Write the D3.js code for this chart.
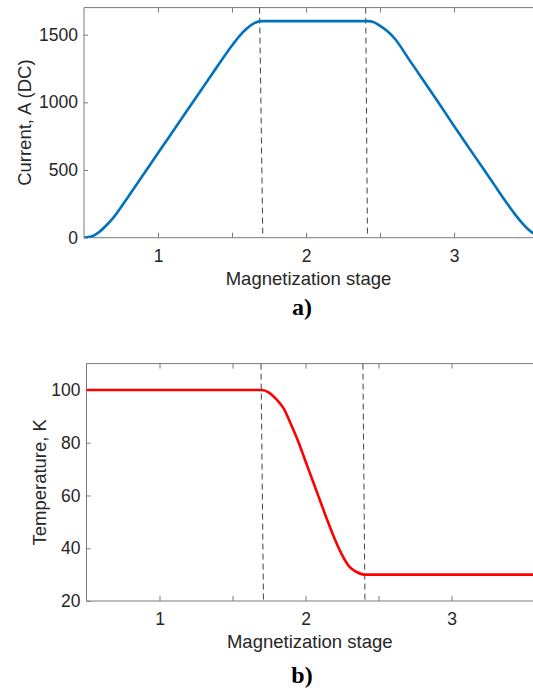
<!DOCTYPE html>
<html>
<head>
<meta charset="utf-8">
<script src="https://cdn.jsdelivr.net/npm/d3@7"></script>
<style>
    body { margin: 0; background: #fff; }
    .tick text { font-family: "Liberation Sans", Arial, sans-serif; fill: #262626; }
    .axis-title { font-family: "Liberation Sans", Arial, sans-serif; fill: #262626; font-size: 18.5px; }
    .panel-label { font-family: "Liberation Serif", "Times New Roman", serif; font-weight: bold; font-size: 24px; fill: #000; }
</style>
</head>
<body>
<div id="chart"></div>
<script>
(function () {

    // current profile (panel a)
    var currentStage = [0.50, 0.55, 0.60, 0.65, 0.70, 0.75, 0.80, 0.90, 1.00, 1.10, 1.20, 1.30, 1.40, 1.50, 1.55, 1.60, 1.65, 1.70,
        2.42, 2.45, 2.50, 2.55, 2.60, 2.70, 2.80, 2.90, 3.00, 3.10, 3.20, 3.25, 3.30, 3.35, 3.40, 3.45, 3.50, 3.54];
    var currentValues = [0, 8, 40, 90, 150, 225, 305, 465, 625, 785, 945, 1105, 1265, 1420, 1490, 1545, 1585, 1600,
        1600, 1595, 1565, 1525, 1470, 1310, 1150, 990, 825, 665, 505, 426, 345, 265, 190, 120, 62, 28];

    // temperature profile (panel b)
    var tempStage = [0.50, 1.70, 1.75, 1.80, 1.85, 1.90, 1.95, 2.00, 2.05, 2.10, 2.15, 2.20, 2.25, 2.30, 2.35, 2.40, 3.56];
    var tempValues = [100, 100, 99, 96.5, 93, 87, 80.5, 73, 65.5, 58, 50.5, 43.5, 37.5, 33, 31, 30, 30];

    // stage boundaries (dashed lines), value at top and bottom of each axis
    var boundsA = [[1.686, 1.708], [2.403, 2.415]];
    var boundsB = [[1.695, 1.712], [2.393, 2.407]];

    var xTicks = [1, 1.5, 2, 2.5, 3];
    var xTickLabels = ["1", "", "2", "", "3"];
    var yTicksA = [0, 500, 1000, 1500];
    var yTicksB = [20, 40, 60, 80, 100];

    var width = 533,
        height = 690,
        axisColor = "#7a7a7a";

    var svg = d3.select("#chart").append("svg")
        .attr("width", width)
        .attr("height", height);

    drawPanel({
        id: "a",
        left: 84, right: 534, top: 7.6, bottom: 237.7,
        xDomain: [0.5, 3.54], yDomain: [0, 1700],
        xs: currentStage, ys: currentValues, color: "#0072BD",
        yTicks: yTicksA, yTitle: "Current, A (DC)", yTitleX: 25,
        bounds: boundsA, label: "a)", labelY: 315
    });
    drawPanel({
        id: "b",
        left: 86.5, right: 533.3, top: 363.6, bottom: 601,
        xDomain: [0.5, 3.56], yDomain: [20, 110],
        xs: tempStage, ys: tempValues, color: "#FF0000",
        yTicks: yTicksB, yTitle: "Temperature, K", yTitleX: 40,
        bounds: boundsB, label: "b)", labelY: 683
    });

    function drawPanel(p) {
        var x = d3.scaleLinear().domain(p.xDomain).range([p.left, p.right]);
        var y = d3.scaleLinear().domain(p.yDomain).range([p.bottom, p.top]);
        var g = svg.append("g");

        g.append("clipPath").attr("id", "clip-" + p.id)
            .append("rect")
            .attr("x", p.left).attr("y", p.top)
            .attr("width", p.right - p.left).attr("height", p.bottom - p.top);

        // box: left, top, bottom
        g.append("path")
            .attr("d", "M" + p.right + "," + p.top + "H" + p.left + "V" + p.bottom + "H" + p.right)
            .attr("fill", "none")
            .attr("stroke", axisColor)
            .attr("stroke-width", 1);

        var xAxis = d3.axisBottom(x).tickValues(xTicks)
            .tickFormat(function (d, i) { return xTickLabels[i]; })
            .tickSizeInner(-5).tickSizeOuter(0).tickPadding(12);
        var gx = g.append("g")
            .attr("transform", "translate(0," + p.bottom + ")")
            .call(xAxis);
        gx.select(".domain").remove();
        gx.selectAll(".tick line").attr("stroke", axisColor);
        gx.selectAll(".tick text").attr("font-size", "17.5px").attr("dy", "0.71em");

        var xTop = d3.axisTop(x).tickValues(xTicks).tickFormat("")
            .tickSizeInner(-5).tickSizeOuter(0);
        var gxt = g.append("g")
            .attr("transform", "translate(0," + p.top + ")")
            .call(xTop);
        gxt.select(".domain").remove();
        gxt.selectAll(".tick line").attr("stroke", axisColor);

        var yAxis = d3.axisLeft(y).tickValues(p.yTicks)
            .tickFormat(d3.format("d"))
            .tickSizeInner(-4).tickSizeOuter(0).tickPadding(6);
        var gy = g.append("g")
            .attr("transform", "translate(" + p.left + ",0)")
            .call(yAxis);
        gy.select(".domain").remove();
        gy.selectAll(".tick line").attr("stroke", axisColor);
        gy.selectAll(".tick text").attr("font-size", "17.5px");

        // dashed stage boundaries
        g.selectAll(".bound")
            .data(p.bounds).enter()
            .append("line")
            .attr("class", "bound")
            .attr("x1", d => x(d[0])).attr("y1", p.top)
            .attr("x2", d => x(d[1])).attr("y2", p.bottom)
            .attr("stroke", "#444")
            .attr("stroke-width", 1)
            .attr("stroke-dasharray", "6,4");

        var pts = p.xs.map(function (d, i) { return [d, p.ys[i]]; });
        var line = d3.line()
            .x(d => x(d[0]))
            .y(d => y(d[1]))
            .curve(d3.curveMonotoneX);
        g.append("path")
            .datum(pts)
            .attr("clip-path", "url(#clip-" + p.id + ")")
            .attr("d", line)
            .attr("fill", "none")
            .attr("stroke", p.color)
            .attr("stroke-width", 2.6)
            .attr("stroke-linejoin", "round");

        var cx = (p.left + Math.min(p.right, width)) / 2;
        g.append("text")
            .attr("class", "axis-title")
            .attr("x", cx)
            .attr("y", p.bottom + 47)
            .attr("text-anchor", "middle")
            .text("Magnetization stage");

        g.append("text")
            .attr("class", "axis-title")
            .attr("transform", "translate(" + p.yTitleX + "," + ((p.top + p.bottom) / 2) + ") rotate(-90)")
            .attr("text-anchor", "middle")
            .attr("dy", "0.35em")
            .text(p.yTitle);

        g.append("text")
            .attr("class", "panel-label")
            .attr("x", 302)
            .attr("y", p.labelY)
            .attr("text-anchor", "middle")
            .text(p.label);
    }
})();
</script>
</body>
</html>
